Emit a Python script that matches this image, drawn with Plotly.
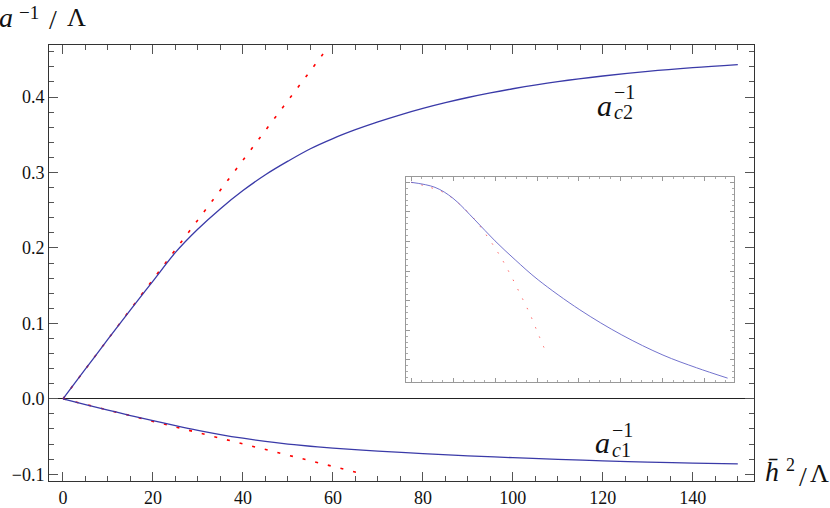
import plotly.graph_objects as go

# ---- data ----
c2_x = [0, 5, 10, 15, 20, 25, 30, 35, 40, 45, 50, 55, 60, 65, 70, 75, 80, 85, 90, 95,
        100, 110, 120, 130, 140, 150]
c2_y = [0, 0.0395, 0.079, 0.118, 0.156, 0.194, 0.225, 0.252, 0.276, 0.297, 0.315, 0.3315,
        0.345, 0.3567, 0.3671, 0.3765, 0.385, 0.3926, 0.3994, 0.4055, 0.4110, 0.4204,
        0.4279, 0.4340, 0.4389, 0.4429]

c2_lin_x = [0, 57.8]
c2_lin_y = [0, 0.457]

c1_x = [0, 5, 10, 15, 20, 25, 30, 35, 40, 45, 50, 55, 60, 70, 80, 90, 100, 110, 120,
        130, 140, 150]
c1_y = [0, -0.0076, -0.0150, -0.0222, -0.0290, -0.0356, -0.0418, -0.0474, -0.0523,
        -0.0565, -0.0600, -0.0629, -0.0653, -0.0693, -0.0727, -0.0756, -0.0781,
        -0.0803, -0.0823, -0.0840, -0.0853, -0.0864]

c1_lin_x = [0, 65.3]
c1_lin_y = [0, -0.0976]

inset_x = [0, 0.57, 1.0, 1.52, 2.0, 2.48, 3.03, 4.02, 5.02, 6.0, 6.8, 7.54]
inset_y = [0, -0.17, -0.54, -1.27, -1.98, -2.62, -3.30, -4.31, -5.16, -5.84, -6.27, -6.62]

inset_app_x = [0, 0.77, 1.17, 1.53, 1.84, 2.12, 2.37, 2.60, 2.83, 3.03, 3.23]
inset_app_y = [0, -0.34, -0.76, -1.28, -1.88, -2.49, -3.13, -3.78, -4.45, -5.13, -5.80]

x_ticks = [0, 20, 40, 60, 80, 100, 120, 140]
y_ticks = [-0.1, 0.0, 0.1, 0.2, 0.3, 0.4]

BLUE = "rgb(58,58,168)"
RED = "rgb(255,0,0)"
FONT = "Liberation Serif"
INK = "#111"

fig = go.Figure()

fig.add_trace(go.Scatter(x=c2_lin_x, y=c2_lin_y, mode="lines",
                         line=dict(color=RED, width=1.6, dash="3px,10px")))
fig.add_trace(go.Scatter(x=c1_lin_x, y=c1_lin_y, mode="lines",
                         line=dict(color=RED, width=1.6, dash="3px,10px")))
fig.add_trace(go.Scatter(x=c2_x, y=c2_y, mode="lines", line_shape="spline",
                         line=dict(color=BLUE, width=1.3)))
fig.add_trace(go.Scatter(x=c1_x, y=c1_y, mode="lines", line_shape="spline",
                         line=dict(color=BLUE, width=1.3)))

# inset
fig.add_trace(go.Scatter(x=inset_app_x, y=inset_app_y, mode="lines", line_shape="spline",
                         line=dict(color="rgba(255,60,60,0.8)", width=1, dash="1.5px,9px"),
                         xaxis="x2", yaxis="y2"))
fig.add_trace(go.Scatter(x=inset_x, y=inset_y, mode="lines", line_shape="spline",
                         line=dict(color="rgba(100,100,200,0.9)", width=1),
                         xaxis="x2", yaxis="y2"))

axis_common = dict(showgrid=False, ticks="inside", mirror="ticks", showline=True,
                   linecolor="#333", linewidth=1, tickcolor="#555", automargin=False,
                   tickfont=dict(family=FONT, size=18, color=INK))

fig.update_layout(
    width=830, height=508,
    margin=dict(l=49, r=76, t=45, b=27, pad=0),
    paper_bgcolor="white", plot_bgcolor="white",
    showlegend=False,
    font=dict(family=FONT),
    xaxis=dict(range=[-3.11, 153.6], tickvals=x_ticks, ticklen=9, zeroline=False,
               minor=dict(dtick=5, tick0=0, ticklen=5, ticks="inside", tickcolor="#555"),
               **axis_common),
    yaxis=dict(range=[-0.109, 0.469], tickvals=y_ticks, tickformat=".1f", ticklen=9,
               zeroline=True, zerolinecolor="#222", zerolinewidth=1,
               minor=dict(dtick=0.02, tick0=0, ticklen=5, ticks="inside", tickcolor="#555"),
               **axis_common),
    xaxis2=dict(domain=[0.5064, 0.9721], anchor="y2", range=[-0.12, 7.70],
                dtick=1, tick0=0, ticks="inside", ticklen=4, tickcolor="#999",
                showticklabels=False, showgrid=False, zeroline=False,
                showline=True, linecolor="#999", linewidth=1, mirror="ticks",
                minor=dict(dtick=0.25, tick0=0, ticklen=2, ticks="inside", tickcolor="#aaa")),
    yaxis2=dict(domain=[0.2278, 0.6966], anchor="x2", range=[-6.74, 0.17],
                dtick=1, tick0=0, ticks="inside", ticklen=4, tickcolor="#999",
                showticklabels=False, showgrid=False, zeroline=False,
                showline=True, linecolor="#999", linewidth=1, mirror="ticks",
                minor=dict(dtick=0.2, tick0=0, ticklen=2, ticks="inside", tickcolor="#aaa")),
)

def ptext(x, y, text, size, yanchor="middle"):
    fig.add_annotation(xref="paper", yref="paper", x=x, y=y, text=text, showarrow=False,
                       xanchor="center", yanchor=yanchor,
                       font=dict(family=FONT, size=size, color=INK))

# y-axis title  a^{-1}/Λ  (top-left)
ptext(-0.0610, 1.062, "<i>a</i>", 28)
ptext(-0.0284, 481 / 436, "−1", 19, yanchor="top")
ptext(0.0057, 1.058, "/", 28)
ptext(0.0383, 1.062, "Λ", 26)

# x-axis title  h̄^2/Λ  (bottom-right)
ptext((772 - 49) / 705, 0.021, "<i>h\u0304</i>", 28)
ptext((790 - 49) / 705, 0.036, "2", 18)
ptext((803 - 49) / 705, 0.010, "/", 28)
ptext((820 - 49) / 705, 0.018, "Λ", 26)

# curve labels
def curve_label(xa, ya, xs, ys, sub):
    fig.add_annotation(x=xa, y=ya, text="<i>a</i>", showarrow=False, xanchor="center", yanchor="middle",
                       font=dict(family=FONT, size=30, color=INK))
    fig.add_annotation(x=xs, y=ys, text="−1", showarrow=False, xanchor="left", yanchor="middle",
                       font=dict(family=FONT, size=20, color=INK))
    fig.add_annotation(x=xs, y=ys - 0.0265, text="<i>c</i>" + sub, showarrow=False,
                       xanchor="left", yanchor="middle",
                       font=dict(family=FONT, size=20, color=INK))

curve_label(120.3, 0.389, 122.0, 0.407, "2")
curve_label(120.0, -0.0576, 121.6, -0.0420, "1")

# remove the default 8px page margin so the figure sits at the window origin
fig.write_html("out.html", config={"displayModeBar": False},
               post_script="document.body.style.margin='0';")
